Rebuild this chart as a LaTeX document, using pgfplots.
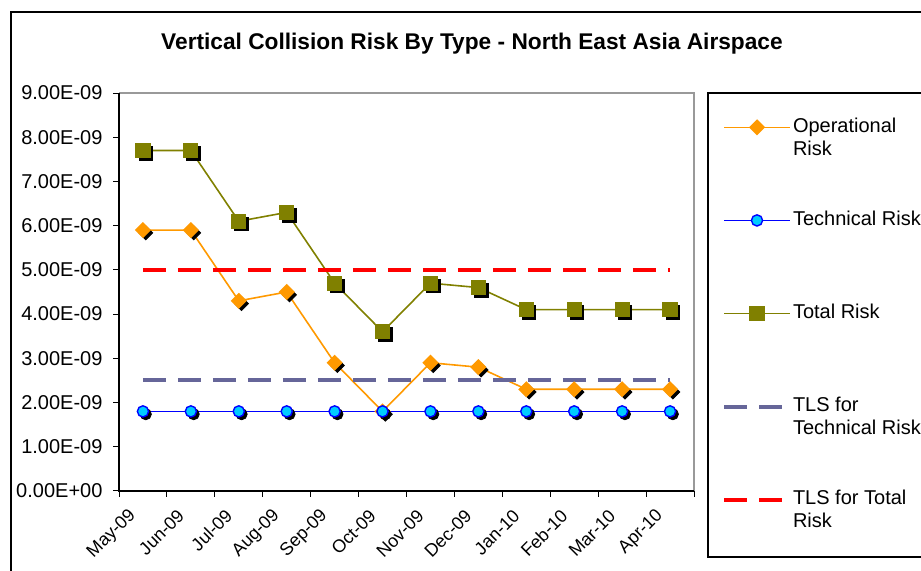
\documentclass[border=0pt]{standalone}
\usepackage{pgfplots}
\pgfplotsset{compat=1.18}
\usepackage{fontspec}
\setmainfont{Liberation Sans}
\definecolor{oporange}{HTML}{FF9900}
\definecolor{olivegreen}{HTML}{808000}
\definecolor{techblue}{HTML}{0000FF}
\definecolor{techcyan}{HTML}{00CCFF}
\definecolor{tlsblue}{HTML}{666699}
\definecolor{tlsred}{HTML}{FF0000}
\definecolor{framegray}{HTML}{999999}

\pgfplotstableread{
x op tech total tlstech tlstotal
0 5.9e-9 1.8e-9 7.7e-9 2.5e-9 5.0e-9
1 5.9e-9 1.8e-9 7.7e-9 2.5e-9 5.0e-9
2 4.3e-9 1.8e-9 6.1e-9 2.5e-9 5.0e-9
3 4.5e-9 1.8e-9 6.3e-9 2.5e-9 5.0e-9
4 2.9e-9 1.8e-9 4.7e-9 2.5e-9 5.0e-9
5 1.8e-9 1.8e-9 3.6e-9 2.5e-9 5.0e-9
6 2.9e-9 1.8e-9 4.7e-9 2.5e-9 5.0e-9
7 2.8e-9 1.8e-9 4.6e-9 2.5e-9 5.0e-9
8 2.3e-9 1.8e-9 4.1e-9 2.5e-9 5.0e-9
9 2.3e-9 1.8e-9 4.1e-9 2.5e-9 5.0e-9
10 2.3e-9 1.8e-9 4.1e-9 2.5e-9 5.0e-9
11 2.3e-9 1.8e-9 4.1e-9 2.5e-9 5.0e-9
}\riskdata

\begin{document}
\fontsize{10}{11.5}\selectfont
\begin{tikzpicture}
\useasboundingbox (0,0) rectangle (460.5pt,285.5pt);
\clip (0,0) rectangle (460.5pt,285.5pt);
% outer chart frame
\draw[black, line width=0.6pt] (5.5pt,-10pt) -- (5.5pt,279.5pt) -- (480pt,279.5pt);
% legend frame
\draw[black, line width=0.75pt] (480pt,7pt) -- (354pt,7pt) -- (354pt,239pt) -- (480pt,239pt);
% title
\node[font=\fontsize{11.35}{13}\selectfont\bfseries] at (236pt,263.5pt) {Vertical Collision Risk By Type - North East Asia Airspace};

\begin{axis}[
  at={(59.5pt,40pt)}, anchor=south west,
  scale only axis, width=287.5pt, height=199pt,
  xmin=-0.5, xmax=11.5, ymin=0, ymax=9e-9,
  clip=false,
  axis line style={draw=none},
  tick align=outside,
  major tick length=3pt,
  every tick/.style={black, line width=0.5pt},
  xtick pos=left, ytick pos=left,
  scaled y ticks=false,
  ytick={0,1e-9,2e-9,3e-9,4e-9,5e-9,6e-9,7e-9,8e-9,9e-9},
  yticklabels={0.00E+00,1.00E-09,2.00E-09,3.00E-09,4.00E-09,5.00E-09,6.00E-09,7.00E-09,8.00E-09,9.00E-09},
  xtick={-0.5,0.5,1.5,2.5,3.5,4.5,5.5,6.5,7.5,8.5,9.5,10.5},
  xticklabels={May-09,Jun-09,Jul-09,Aug-09,Sep-09,Oct-09,Nov-09,Dec-09,Jan-10,Feb-10,Mar-10,Apr-10},
  extra x ticks={11.5}, extra x tick labels={},
  yticklabel style={xshift=-1.75pt, font=\fontsize{10}{11.5}\selectfont},
  xticklabel style={xshift=9.5pt, yshift=-5.5pt, rotate=45, anchor=east, font=\fontsize{9}{10.5}\selectfont},
  legend image code/.code={\draw[mark repeat=2,mark phase=2,#1] plot coordinates {(0pt,2.4pt) (16.5pt,2.4pt) (33pt,2.4pt)};},
  legend style={at={(1.0487,0.9422)}, anchor=north west, draw=none, fill=none,
    inner sep=0pt, outer sep=0pt, row sep=37pt, column sep=0.5pt,
    nodes={inner sep=0pt, outer sep=0pt}, cells={anchor=base west},
    font=\fontsize{10}{11.5}\selectfont},
]
% Operational risk
\addplot[only marks, mark=square*, mark size=2.45pt, black, forget plot,
  mark options={xshift=1.4pt, yshift=-1.4pt, rotate=45}] table[x=x, y=op] {\riskdata};
\addplot[oporange, line width=0.8pt, mark=square*, mark size=2.45pt,
  mark options={rotate=45, fill=oporange, draw=oporange}] table[x=x, y=op] {\riskdata};
\addlegendentry{\parbox[t]{80pt}{\strut Operational\\Risk\strut}}
% Technical risk
\addplot[only marks, mark=*, mark size=2.8pt, black, forget plot,
  mark options={xshift=1.4pt, yshift=-1.4pt}] table[x=x, y=tech] {\riskdata};
\addplot[techblue, line width=0.8pt, mark=*, mark size=2.8pt,
  mark options={fill=techcyan, draw=techblue, line width=0.7pt}] table[x=x, y=tech] {\riskdata};
\addlegendentry{\parbox[t]{80pt}{\strut Technical Risk\\\strut}}
% Total risk
\addplot[only marks, mark=square*, mark size=3.4pt, black, forget plot,
  mark options={xshift=1.4pt, yshift=-1.4pt}] table[x=x, y=total] {\riskdata};
\addplot[olivegreen, line width=0.8pt, mark=square*, mark size=3.4pt,
  mark options={fill=olivegreen, draw=olivegreen}] table[x=x, y=total] {\riskdata};
\addlegendentry{\parbox[t]{80pt}{\strut Total Risk\\\strut}}
% TLS lines
\addplot[tlsblue, line width=2pt, dash pattern=on 11.67pt off 5.83pt] table[x=x, y=tlstech] {\riskdata};
\addlegendentry{\parbox[t]{80pt}{\strut TLS for\\Technical Risk\strut}}
\addplot[tlsred, line width=2pt, dash pattern=on 11.67pt off 5.83pt] table[x=x, y=tlstotal] {\riskdata};
\addlegendentry{\parbox[t]{80pt}{\strut TLS for Total\\Risk\strut}}
% axis frame
\draw[framegray, line width=1pt] (rel axis cs:0,1) -- (rel axis cs:1,1) -- (rel axis cs:1,0);
\draw[black, line width=0.75pt] (rel axis cs:0,1) -- (rel axis cs:0,0) -- (rel axis cs:1,0);
\end{axis}
\end{tikzpicture}
\end{document}
